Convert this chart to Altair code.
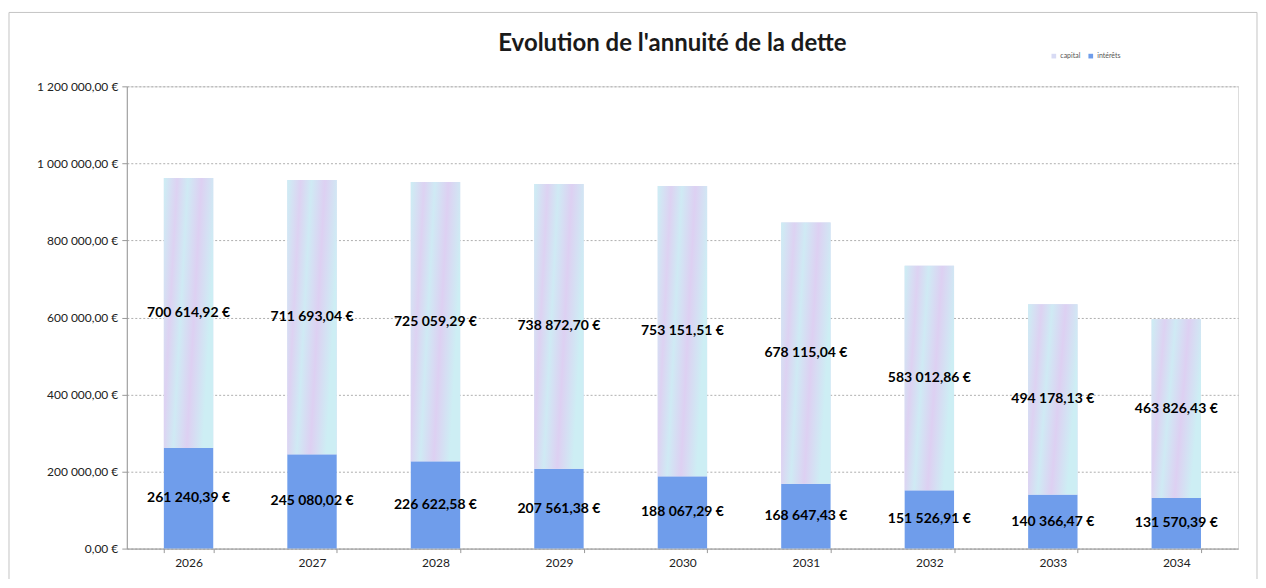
import altair as alt
import pandas as pd

years = ["2026", "2027", "2028", "2029", "2030", "2031", "2032", "2033", "2034"]
capital = [700614.92, 711693.04, 725059.29, 738872.70, 753151.51, 678115.04, 583012.86, 494178.13, 463826.43]
interets = [261240.39, 245080.02, 226622.58, 207561.38, 188067.29, 168647.43, 151526.91, 140366.47, 131570.39]
y_ticks = [0, 200000, 400000, 600000, 800000, 1000000, 1200000]

COL_CAP = "#d8dbf4"
COL_INT = "#6f9deb"
FONT = "Lato"

rows = []
for yr, c, i in zip(years, capital, interets):
    rows.append({"annee": yr, "type": "intérêts", "v": i, "y0": 0.0, "y1": i, "mid": i / 2})
    rows.append({"annee": yr, "type": "capital", "v": c, "y0": i, "y1": i + c, "mid": i + c / 2})
df = pd.DataFrame(rows)

xscale = alt.Scale(domain=years, paddingInner=0.6, paddingOuter=0.3)
yscale = alt.Scale(domain=[0, 1200000], nice=False)

x_enc = alt.X("annee:N", scale=xscale, sort=years, title=None,
              axis=alt.Axis(labelAngle=0, tickBand="extent", ticks=True, tickSize=4,
                            tickColor="#999", domainColor="#999", labelFont=FONT,
                            labelFontSize=12, labelColor="#222", labelPadding=5, grid=False))

base = alt.Chart(df)

bars = base.mark_bar().encode(
    x=x_enc,
    y=alt.Y("y0:Q", scale=yscale, title=None,
            axis=alt.Axis(values=y_ticks, format="$,.2f", labelFont=FONT, labelFontSize=12,
                          labelColor="#222", tickSize=5, tickColor="#999", domainColor="#999",
                          labelPadding=4, grid=True, gridDash=[2, 2], gridColor="#9a9a9a",
                          gridWidth=0.8)),
    y2="y1:Q",
    color=alt.Color("type:N",
                    scale=alt.Scale(domain=["capital", "intérêts"], range=[COL_CAP, COL_INT]),
                    legend=alt.Legend(title=None, orient="none", legendX=925, legendY=-34,
                                      direction="horizontal", labelFontSize=7, labelFont=FONT,
                                      labelColor="#555", symbolType="square", symbolSize=22,
                                      symbolStrokeWidth=0, columnPadding=6, labelOffset=3)),
)

grad = alt.Gradient(
    gradient="linear", x1=0, x2=1, y1=0, y2=0.3,
    stops=[
        alt.GradientStop(color="#cdeef4", offset=0.0),
        alt.GradientStop(color="#ddd2f2", offset=0.25),
        alt.GradientStop(color="#cfeaf4", offset=0.45),
        alt.GradientStop(color="#ddd0f2", offset=0.7),
        alt.GradientStop(color="#cdeef4", offset=1.0),
    ],
)

cap_overlay = alt.Chart(df[df["type"] == "capital"]).mark_bar(fill=grad).encode(
    x=alt.X("annee:N", scale=xscale, sort=years),
    y=alt.Y("y0:Q", scale=yscale),
    y2="y1:Q",
)

labels = base.mark_text(font=FONT, fontSize=14, fontWeight="bold", color="#000", baseline="middle").encode(
    x=alt.X("annee:N", scale=xscale, sort=years),
    y=alt.Y("mid:Q", scale=yscale),
    text=alt.Text("v:Q", format="$,.2f"),
)

frame = alt.Chart(alt.Data(values=[{}])).mark_rect(filled=False, stroke="#c4c4c4", strokeWidth=1).encode(
    x=alt.value(-118), x2=alt.value(1132), y=alt.value(-74), y2=alt.value(520)
)

chart = alt.layer(frame, bars, cap_overlay, labels).properties(
    width=1113,
    height=463,
    padding={"left": 119, "top": 78, "right": 20, "bottom": 30},
    autosize=alt.AutoSizeParams(type="none"),
    title=alt.TitleParams("Evolution de l'annuité de la dette", font=FONT, fontSize=24,
                          fontWeight="bold", color="#1a1a1a", anchor="middle", offset=0,
                          dy=44, dx=-10),
).configure_view(stroke=None).configure(background="white")

chart.save("out.html", embed_options={
    "renderer": "svg", "actions": False,
    "formatLocale": {"decimal": ",", "thousands": " ", "grouping": [3], "currency": ["", " €"]},
})
